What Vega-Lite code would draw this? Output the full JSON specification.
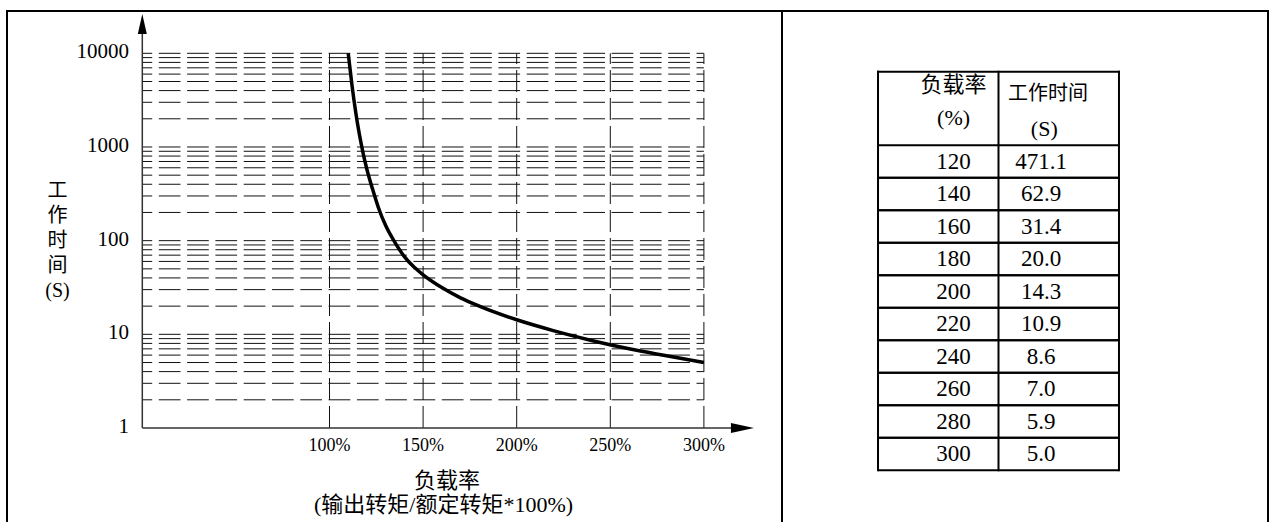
{
  "$schema": "https://vega.github.io/schema/vega-lite/v6.json",
  "background": "white",
  "padding": {"left": 5, "top": 9, "right": 0, "bottom": 0},
  "bounds": "flush",
  "spacing": 0,
  "data": {"values": [{}]},
  "config": {
    "axis": {"disable": true},
    "view": {"stroke": null},
    "text": {"font": "Liberation Serif, Noto Sans CJK SC", "color": "black"}
  },
  "datasets": {
    "gridY": [
      {"t": 2}, {"t": 3}, {"t": 4}, {"t": 5}, {"t": 6}, {"t": 7}, {"t": 8}, {"t": 9},
      {"t": 10}, {"t": 20}, {"t": 30}, {"t": 40}, {"t": 50}, {"t": 60}, {"t": 70}, {"t": 80}, {"t": 90},
      {"t": 100}, {"t": 200}, {"t": 300}, {"t": 400}, {"t": 500}, {"t": 600}, {"t": 700}, {"t": 800}, {"t": 900},
      {"t": 1000}, {"t": 2000}, {"t": 3000}, {"t": 4000}, {"t": 5000}, {"t": 6000}, {"t": 7000}, {"t": 8000}, {"t": 9000},
      {"t": 10000}
    ],
    "gridX": [{"p": 100}, {"p": 150}, {"p": 200}, {"p": 250}, {"p": 300}],
    "curve": [
      {"load": 110, "time": 10000},
      {"load": 112, "time": 4571},
      {"load": 114, "time": 2344},
      {"load": 116, "time": 1349},
      {"load": 118, "time": 851},
      {"load": 120, "time": 575},
      {"load": 123, "time": 355},
      {"load": 126, "time": 229},
      {"load": 130, "time": 145},
      {"load": 135, "time": 95.5},
      {"load": 140, "time": 67.6},
      {"load": 145, "time": 52.5},
      {"load": 150, "time": 43.2},
      {"load": 160, "time": 31.6},
      {"load": 170, "time": 24.5},
      {"load": 180, "time": 20.0},
      {"load": 200, "time": 14.3},
      {"load": 220, "time": 10.9},
      {"load": 240, "time": 8.6},
      {"load": 260, "time": 7.0},
      {"load": 280, "time": 5.9},
      {"load": 300, "time": 5.0}
    ],
    "yLabels": [
      {"t": 1, "label": "1"}, {"t": 10, "label": "10"}, {"t": 100, "label": "100"},
      {"t": 1000, "label": "1000"}, {"t": 10000, "label": "10000"}
    ],
    "xLabels": [
      {"p": 100, "label": "100%"}, {"p": 150, "label": "150%"}, {"p": 200, "label": "200%"},
      {"p": 250, "label": "250%"}, {"p": 300, "label": "300%"}
    ],
    "table": [
      {"load": 120, "time": "471.1"},
      {"load": 140, "time": "62.9"},
      {"load": 160, "time": "31.4"},
      {"load": 180, "time": "20.0"},
      {"load": 200, "time": "14.3"},
      {"load": 220, "time": "10.9"},
      {"load": 240, "time": "8.6"},
      {"load": 260, "time": "7.0"},
      {"load": 280, "time": "5.9"},
      {"load": 300, "time": "5.0"}
    ]
  },
  "hconcat": [
    {
      "width": 775,
      "height": 511,
      "layer": [
        {
          "data": {"name": "gridY"},
          "mark": {"type": "rule", "color": "#111", "strokeWidth": 1, "strokeDash": [21.7, 6.6], "strokeDashOffset": 11.8},
          "encoding": {
            "y": {"field": "t", "type": "quantitative", "scale": {"type": "log", "domain": [0.09919, 28297], "nice": false}},
            "x": {"datum": 0, "scale": {"domain": [-72.28, 341.72], "nice": false, "zero": false}},
            "x2": {"datum": 300}
          }
        },
        {
          "data": {"name": "gridX"},
          "mark": {"type": "rule", "color": "#111", "strokeWidth": 1, "strokeDash": [22, 6]},
          "encoding": {
            "x": {"field": "p", "type": "quantitative"},
            "y": {"datum": 1},
            "y2": {"datum": 10000}
          }
        },
        {
          "mark": {"type": "rule", "color": "#333", "strokeWidth": 1.5},
          "encoding": {"x": {"datum": 0}, "y": {"datum": 1}, "y2": {"datum": 18000}}
        },
        {
          "mark": {"type": "rule", "color": "#333", "strokeWidth": 1.5},
          "encoding": {"y": {"datum": 1}, "x": {"datum": 0}, "x2": {"datum": 318}}
        },
        {
          "mark": {"type": "point", "shape": "M0,-1L0.45,1L-0.45,1Z", "size": 400, "filled": true, "color": "black", "opacity": 1, "strokeWidth": 0},
          "encoding": {"x": {"datum": 0}, "y": {"datum": 20560}}
        },
        {
          "mark": {"type": "point", "shape": "M1,0L-1,-0.435L-1,0.435Z", "size": 529, "filled": true, "color": "black", "opacity": 1, "strokeWidth": 0},
          "encoding": {"x": {"datum": 320.6}, "y": {"datum": 1}}
        },
        {
          "data": {"name": "curve"},
          "mark": {"type": "line", "color": "black", "strokeWidth": 3.5, "interpolate": "monotone"},
          "encoding": {
            "x": {"field": "load", "type": "quantitative"},
            "y": {"field": "time", "type": "quantitative"}
          }
        },
        {
          "data": {"name": "yLabels"},
          "mark": {"type": "text", "align": "right", "baseline": "middle", "fontSize": 21, "dy": -1},
          "encoding": {
            "x": {"datum": -7.1},
            "y": {"field": "t", "type": "quantitative"},
            "text": {"field": "label"}
          }
        },
        {
          "data": {"name": "xLabels"},
          "mark": {"type": "text", "align": "center", "baseline": "middle", "fontSize": 18},
          "encoding": {
            "x": {"field": "p", "type": "quantitative"},
            "y": {"datum": 0.65},
            "text": {"field": "label"}
          }
        },
        {
          "mark": {"type": "text", "text": ["工", "作", "时", "间", "(S)"], "align": "center", "baseline": "top", "fontSize": 20, "lineHeight": 25},
          "encoding": {"x": {"datum": -45.3}, "y": {"datum": 431.3}}
        },
        {
          "mark": {"type": "text", "text": "负载率", "align": "center", "baseline": "middle", "fontSize": 22},
          "encoding": {"x": {"datum": 162.7}, "y": {"datum": 0.2685}}
        },
        {
          "mark": {"type": "text", "text": "(输出转矩/额定转矩*100%)", "align": "center", "baseline": "middle", "fontSize": 22},
          "encoding": {"x": {"datum": 160.9}, "y": {"datum": 0.1507}}
        },
        {
          "mark": {"type": "rule", "color": "black", "strokeWidth": 2, "strokeCap": "square"},
          "encoding": {"x": {"datum": -72.28}, "y": {"datum": 0.09919}, "y2": {"datum": 28297}}
        },
        {
          "mark": {"type": "rule", "color": "black", "strokeWidth": 2, "strokeCap": "square"},
          "encoding": {"y": {"datum": 28297}, "x": {"datum": -72.28}, "x2": {"datum": 341.72}}
        },
        {
          "mark": {"type": "rule", "color": "black", "strokeWidth": 2, "strokeCap": "square"},
          "encoding": {"x": {"datum": 341.72}, "y": {"datum": 0.09919}, "y2": {"datum": 28297}}
        }
      ]
    },
    {
      "width": 486,
      "height": 511,
      "layer": [
        {
          "data": {"name": "table"},
          "mark": {"type": "rule", "color": "black", "strokeWidth": 2, "yOffset": -16.25},
          "encoding": {
            "y": {"field": "load", "type": "quantitative", "scale": {"domain": [27.35, 341.8], "reverse": true, "nice": false, "zero": false}},
            "x": {"datum": 0, "scale": {"domain": [-0.797, 3.237], "nice": false, "zero": false}},
            "x2": {"datum": 2}
          }
        },
        {
          "data": {"name": "table"},
          "mark": {"type": "rule", "color": "black", "strokeWidth": 2, "yOffset": 16.25},
          "encoding": {
            "y": {"field": "load", "type": "quantitative"},
            "x": {"datum": 0},
            "x2": {"datum": 2}
          }
        },
        {
          "mark": {"type": "rule", "color": "black", "strokeWidth": 2, "strokeCap": "square"},
          "encoding": {"y": {"datum": 64.7}, "x": {"datum": 0}, "x2": {"datum": 2}}
        },
        {
          "mark": {"type": "rule", "color": "black", "strokeWidth": 2, "strokeCap": "square"},
          "encoding": {"x": {"datum": 0}, "y": {"datum": 64.7}, "y2": {"datum": 310}}
        },
        {
          "mark": {"type": "rule", "color": "black", "strokeWidth": 2, "strokeCap": "square"},
          "encoding": {"x": {"datum": 1}, "y": {"datum": 64.7}, "y2": {"datum": 310}}
        },
        {
          "mark": {"type": "rule", "color": "black", "strokeWidth": 2, "strokeCap": "square"},
          "encoding": {"x": {"datum": 2}, "y": {"datum": 64.7}, "y2": {"datum": 310}}
        },
        {
          "data": {"name": "table"},
          "mark": {"type": "text", "align": "center", "baseline": "middle", "fontSize": 23},
          "encoding": {
            "x": {"datum": 0.627},
            "y": {"field": "load", "type": "quantitative"},
            "text": {"field": "load", "type": "quantitative", "format": "d"}
          }
        },
        {
          "data": {"name": "table"},
          "mark": {"type": "text", "align": "center", "baseline": "middle", "fontSize": 23},
          "encoding": {
            "x": {"datum": 1.353},
            "y": {"field": "load", "type": "quantitative"},
            "text": {"field": "time"}
          }
        },
        {
          "mark": {"type": "text", "text": "负载率", "align": "center", "baseline": "middle", "fontSize": 22},
          "encoding": {"x": {"datum": 0.627}, "y": {"datum": 72.6}}
        },
        {
          "mark": {"type": "text", "text": "(%)", "align": "center", "baseline": "middle", "fontSize": 22},
          "encoding": {"x": {"datum": 0.627}, "y": {"datum": 93.2}}
        },
        {
          "mark": {"type": "text", "text": "工作时间", "align": "center", "baseline": "middle", "fontSize": 20},
          "encoding": {"x": {"datum": 1.411}, "y": {"datum": 78.4}}
        },
        {
          "mark": {"type": "text", "text": "(S)", "align": "center", "baseline": "middle", "fontSize": 22},
          "encoding": {"x": {"datum": 1.38}, "y": {"datum": 100}}
        },
        {
          "mark": {"type": "rule", "color": "black", "strokeWidth": 2, "strokeCap": "square"},
          "encoding": {"y": {"datum": 27.35}, "x": {"datum": -0.797}, "x2": {"datum": 3.237}}
        },
        {
          "mark": {"type": "rule", "color": "black", "strokeWidth": 2, "strokeCap": "square"},
          "encoding": {"x": {"datum": 3.237}, "y": {"datum": 27.35}, "y2": {"datum": 341.8}}
        }
      ]
    }
  ]
}
